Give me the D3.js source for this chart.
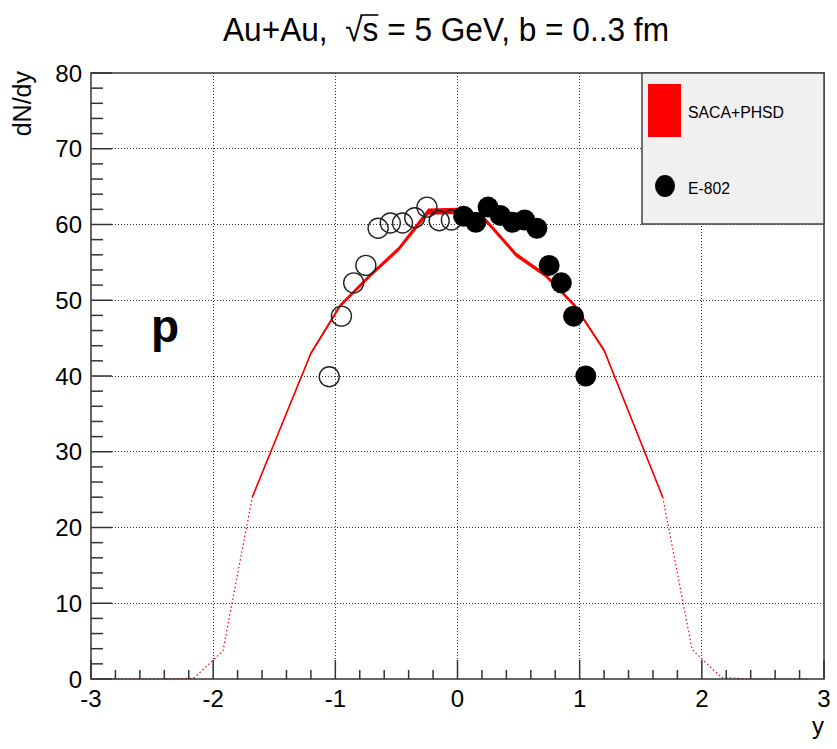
<!DOCTYPE html>
<html>
<head>
<meta charset="utf-8">
<script src="https://cdn.jsdelivr.net/npm/d3@7"></script>
<style>
  body { margin: 0; background: #fff; }
  text { font-family: "Liberation Sans", Arial, sans-serif; }
</style>
</head>
<body>
<svg id="chart" width="837" height="749"></svg>
<script>
// SACA+PHSD model curve (bin centres, dN/dy, band half-width)
const simY = [-2.88, -2.64, -2.40, -2.16, -1.92, -1.68, -1.44, -1.20, -0.96, -0.72, -0.48, -0.24, 0.00,
              0.24, 0.48, 0.72, 0.96, 1.20, 1.44, 1.68, 1.92, 2.16, 2.40, 2.64, 2.88];
const simN = [0, 0, 0, 0.1, 3.7, 24.0, 33.5, 43.0, 49.3, 53.2, 56.8, 61.7, 61.8,
              60.4, 56.0, 53.3, 49.3, 43.4, 33.7, 24.0, 3.9, 0.2, 0, 0, 0];
const simErr = [0, 0, 0, 0.05, 0.1, 0.15, 0.15, 0.2, 0.25, 0.25, 0.3, 0.4, 0.4,
                0.3, 0.3, 0.25, 0.25, 0.2, 0.15, 0.15, 0.1, 0.05, 0, 0, 0];

// E-802 data (measured, filled) and reflected (open)
const e802Y = [0.05, 0.15, 0.25, 0.35, 0.45, 0.55, 0.65, 0.75, 0.85, 0.95, 1.05];
const e802N = [61.1, 60.3, 62.3, 61.2, 60.3, 60.6, 59.5, 54.6, 52.3, 47.9, 40.0];
const reflY = [-0.05, -0.15, -0.25, -0.35, -0.45, -0.55, -0.65, -0.75, -0.85, -0.95, -1.05];
const reflN = [60.6, 60.5, 62.3, 60.9, 60.2, 60.2, 59.5, 54.6, 52.3, 47.9, 39.9];

const xTicks = [-3, -2, -1, 0, 1, 2, 3];
const yTicks = [0, 10, 20, 30, 40, 50, 60, 70, 80];

const svg = d3.select("#chart");
const mLeft = 91, mRight = 824, mTop = 73, mBottom = 679;

const x = d3.scaleLinear().domain([-3, 3]).range([mLeft, mRight]);
const y = d3.scaleLinear().domain([0, 80]).range([mBottom, mTop]);

// grid
const grid = svg.append("g").attr("stroke", "#333").attr("stroke-width", 1)
  .attr("stroke-dasharray", "1,2").attr("shape-rendering", "crispEdges");
grid.selectAll(".gx").data(xTicks.slice(1, -1)).enter().append("line")
  .attr("x1", d => x(d)).attr("x2", d => x(d)).attr("y1", mTop).attr("y2", mBottom);
grid.selectAll(".gy").data(yTicks.slice(1, -1)).enter().append("line")
  .attr("x1", mLeft).attr("x2", mRight).attr("y1", d => y(d)).attr("y2", d => y(d));

// model curve
const sim = simY.map((v, i) => ({ y: v, n: simN[i], e: simErr[i] }));
const inner = sim.filter(d => Math.abs(d.y) <= 1.681);
const outerL = sim.filter(d => d.y <= -1.679);
const outerR = sim.filter(d => d.y >= 1.679);

const plot = svg.append("g");
[outerL, outerR].forEach(seg => {
  plot.append("path")
    .attr("d", d3.line().x(d => x(d.y)).y(d => y(d.n))(seg))
    .attr("fill", "none").attr("stroke", "#ff0000").attr("stroke-width", 1.2)
    .attr("stroke-dasharray", "1.5,2.5");
});
plot.append("path")
  .attr("d", d3.area().x(d => x(d.y)).y0(d => y(d.n - d.e)).y1(d => y(d.n + d.e))(inner))
  .attr("fill", "#ff0000");
plot.append("path")
  .attr("d", d3.line().x(d => x(d.y)).y(d => y(d.n))(inner))
  .attr("fill", "none").attr("stroke", "#ff0000").attr("stroke-width", 1.6);

// data points
plot.selectAll(".open").data(reflY).enter().append("circle")
  .attr("cx", d => x(d)).attr("cy", (d, i) => y(reflN[i])).attr("r", 10)
  .attr("fill", "none").attr("stroke", "#222").attr("stroke-width", 1.4);
plot.selectAll(".full").data(e802Y).enter().append("circle")
  .attr("cx", d => x(d)).attr("cy", (d, i) => y(e802N[i])).attr("r", 10.5)
  .attr("fill", "#000");

// frame + axes
svg.append("rect").attr("x", mLeft).attr("y", mTop).attr("width", mRight - mLeft).attr("height", mBottom - mTop)
  .attr("fill", "none").attr("stroke", "#333").attr("stroke-width", 1.5);

const ax = svg.append("g").attr("stroke", "#333").attr("stroke-width", 1.5);
ax.selectAll(".ty").data(d3.range(0, 80.1, 2)).enter().append("line")
  .attr("x1", mLeft).attr("x2", d => mLeft + (d % 10 === 0 ? 21 : 12))
  .attr("y1", d => y(d)).attr("y2", d => y(d));
ax.selectAll(".tx").data(d3.range(-3, 3.01, 0.2)).enter().append("line")
  .attr("x1", d => x(d)).attr("x2", d => x(d))
  .attr("y1", mBottom).attr("y2", d => mBottom - (Math.abs(d - Math.round(d)) < 1e-6 ? 19 : 9));

svg.append("g").selectAll("text").data(yTicks).enter().append("text")
  .attr("x", 82).attr("y", d => y(d)).attr("dy", "0.36em")
  .attr("text-anchor", "end").attr("font-size", 24).attr("fill", "#000")
  .text(d => d);
svg.append("g").selectAll("text").data(xTicks).enter().append("text")
  .attr("x", d => x(d)).attr("y", 707)
  .attr("text-anchor", "middle").attr("font-size", 24).attr("fill", "#000")
  .text(d => d);

// axis titles
svg.append("text").attr("transform", `translate(31,${mTop - 2}) rotate(-90)`)
  .attr("text-anchor", "end").attr("font-size", 25).text("dN/dy");
svg.append("text").attr("x", mRight).attr("y", 734).attr("text-anchor", "end")
  .attr("font-size", 24).text("y");

// title (one text element, overline on the "s" drawn from its glyph extent)
const titleStr = "Au+Au,\u00A0\u00A0\u221As = 5 GeV, b = 0..3 fm";
const title = svg.append("text").attr("x", 446).attr("y", 41).attr("text-anchor", "middle")
  .attr("font-size", 33)
  .attr("textLength", 446).attr("lengthAdjust", "spacingAndGlyphs")
  .text(titleStr);
const sIdx = titleStr.indexOf("\u221A") + 1;
const sBox = title.node().getExtentOfChar(sIdx);
const rBox = title.node().getExtentOfChar(sIdx - 1);
svg.append("line")
  .attr("x1", rBox.x + rBox.width - 2).attr("x2", sBox.x + sBox.width)
  .attr("y1", rBox.y + 4).attr("y2", rBox.y + 4)
  .attr("stroke", "#000").attr("stroke-width", 1.6);

// particle label
svg.append("text").attr("x", 151).attr("y", 342).attr("font-size", 46)
  .attr("font-weight", "bold").text("p");

// legend
const lg = svg.append("g");
lg.append("rect").attr("x", 642).attr("y", mTop).attr("width", mRight - 642).attr("height", 151)
  .attr("fill", "#f0f0f0").attr("stroke", "#444").attr("stroke-width", 1.5);
lg.append("rect").attr("x", 648).attr("y", 84).attr("width", 33).attr("height", 53).attr("fill", "#ff0000");
lg.append("text").attr("x", 688).attr("y", 112).attr("dy", "0.36em").attr("font-size", 16)
  .attr("textLength", 96).attr("lengthAdjust", "spacingAndGlyphs").text("SACA+PHSD");
lg.append("ellipse").attr("cx", 665).attr("cy", 186).attr("rx", 10).attr("ry", 11).attr("fill", "#000");
lg.append("text").attr("x", 688).attr("y", 188).attr("dy", "0.36em").attr("font-size", 16)
  .attr("textLength", 42).attr("lengthAdjust", "spacingAndGlyphs").text("E-802");
</script>
</body>
</html>
